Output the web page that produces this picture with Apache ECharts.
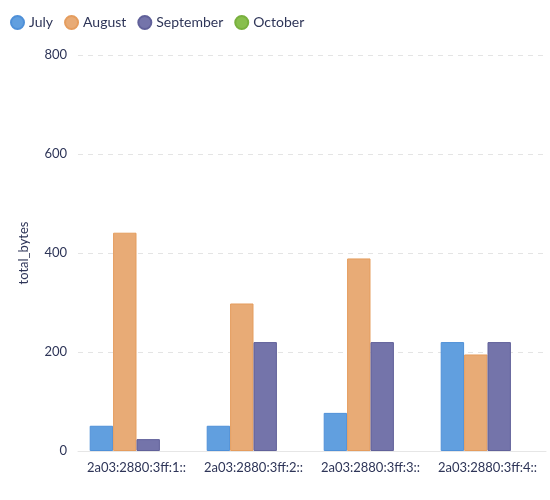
<!DOCTYPE html>
<html>
<head>
<meta charset="utf-8">
<script src="https://cdn.jsdelivr.net/npm/echarts@6/dist/echarts.min.js"></script>
<style>
  html, body { margin: 0; padding: 0; background: #fff; }
  #chart { width: 550px; height: 500px; }
</style>
</head>
<body>
<div id="chart"></div>
<script>
var categories = ["2a03:2880:3ff:1::", "2a03:2880:3ff:2::", "2a03:2880:3ff:3::", "2a03:2880:3ff:4::"];
var july = [51, 51, 77, 220];
var august = [441, 298, 389, 195];
var september = [24, 220, 220, 220];
var october = [null, null, null, null];
var yTicks = [0, 200, 400, 600, 800];

var textColor = "#2e3558";

function barSeries(name, data, fill, border) {
  return {
    name: name,
    type: "bar",
    data: data,
    barGap: 0,
    barCategoryGap: "20%",
    itemStyle: {
      color: fill,
      borderColor: border,
      borderWidth: 1
    }
  };
}

var chart = echarts.init(document.getElementById("chart"));
chart.setOption({
  animation: false,
  color: ["#619fdf", "#e8ab76", "#7474aa", "#88bf4d"],
  textStyle: { fontFamily: "Lato" },
  legend: {
    left: 5,
    top: 10,
    icon: "circle",
    itemWidth: 13,
    itemHeight: 13,
    itemGap: 11,
    textStyle: { color: textColor, fontSize: 14, fontFamily: "Lato" },
    data: ["July", "August", "September", "October"]
  },
  grid: { left: 78, right: 4, top: 55, bottom: 49 },
  xAxis: {
    type: "category",
    data: categories,
    axisTick: { show: false },
    axisLine: { lineStyle: { color: "#e6e6e6" } },
    axisLabel: { color: textColor, fontSize: 13, margin: 10, interval: 0 }
  },
  yAxis: {
    type: "value",
    min: yTicks[0],
    max: yTicks[yTicks.length - 1],
    interval: 200,
    name: "total_bytes",
    nameLocation: "middle",
    nameGap: 48,
    nameTextStyle: { color: textColor, fontSize: 13 },
    axisLine: { show: false },
    axisTick: { show: false },
    axisLabel: { color: textColor, fontSize: 13, margin: 11 },
    splitLine: { lineStyle: { color: "#e4e4e4", type: [5, 5] } }
  },
  series: [
    barSeries("July", july, "#619fdf", "#4f90d8"),
    barSeries("August", august, "#e8ab76", "#e59d5e"),
    barSeries("September", september, "#7474aa", "#61619a"),
    barSeries("October", october, "#88bf4d", "#79b03e")
  ]
});
</script>
</body>
</html>
